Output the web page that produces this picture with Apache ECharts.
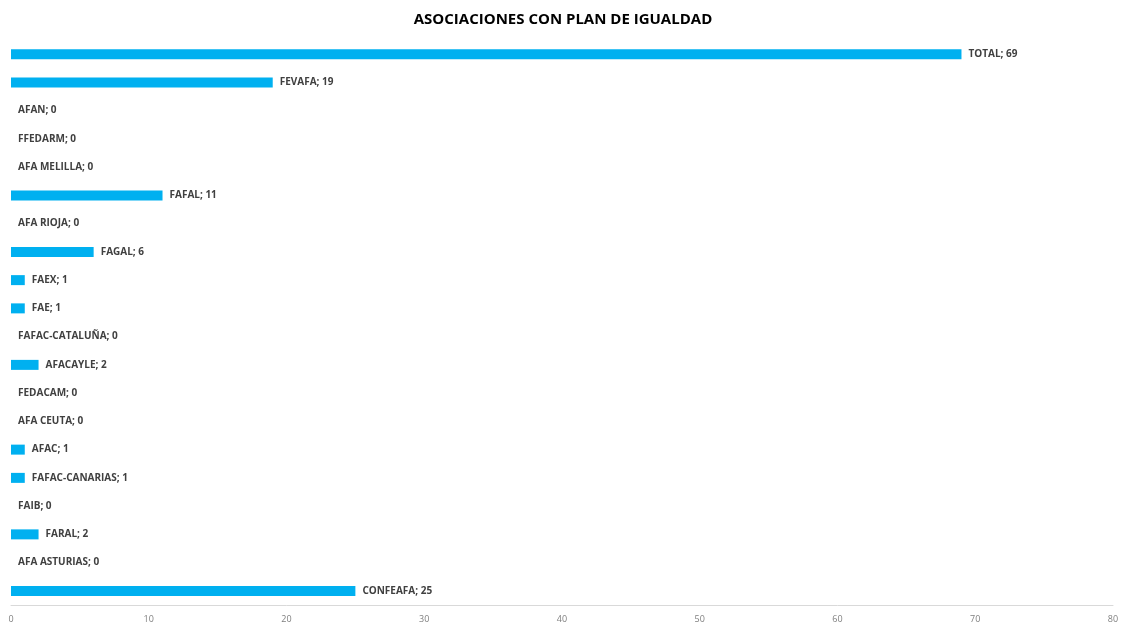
<!DOCTYPE html>
<html>
<head>
<meta charset="utf-8">
<script src="https://cdn.jsdelivr.net/npm/echarts@6/dist/echarts.min.js"></script>
<style>html,body{margin:0;padding:0;background:#fff;}#chart{width:1126px;height:624px;}</style>
</head>
<body>
<div id="chart"></div>
<script>
const categories = ["CONFEAFA","AFA ASTURIAS","FARAL","FAIB","FAFAC-CANARIAS","AFAC","AFA CEUTA","FEDACAM","AFACAYLE","FAFAC-CATALUÑA","FAE","FAEX","FAGAL","AFA RIOJA","FAFAL","AFA MELILLA","FFEDARM","AFAN","FEVAFA","TOTAL"];
const values = [25,0,2,0,1,1,0,0,2,0,1,1,6,0,11,0,0,0,19,69];
const xTicks = [0,10,20,30,40,50,60,70,80];

const chart = echarts.init(document.getElementById('chart'));
const fontFam = '"Liberation Sans Narrow", "Open Sans", sans-serif';
chart.setOption({
  animation: false,
  title: {
    text: 'ASOCIACIONES CON PLAN DE IGUALDAD',
    left: 'center', top: 7,
    textStyle: { fontFamily: fontFam, fontSize: 15, fontWeight: 'bold', color: '#000' }
  },
  grid: { left: 11, right: 13, top: 40, bottom: 18, containLabel: false },
  xAxis: {
    type: 'value', min: xTicks[0], max: xTicks[xTicks.length-1], interval: 10,
    axisLine: { show: true, lineStyle: { color: '#D9D9D9' } },
    axisTick: { show: false },
    splitLine: { show: false },
    axisLabel: { color: '#7f7f7f', fontSize: 9, fontFamily: fontFam, margin: 10 }
  },
  yAxis: {
    type: 'category', data: categories,
    axisLine: { show: false }, axisTick: { show: false }, axisLabel: { show: false }
  },
  series: [{
    type: 'bar', data: values, barWidth: 10,
    itemStyle: { color: '#00B0F0' },
    label: {
      show: true, position: 'right', distance: 7,
      formatter: p => categories[p.dataIndex] + '; ' + p.value,
      fontFamily: fontFam, fontSize: 10, fontWeight: 'bold', color: '#404040'
    }
  }]
});
</script>
</body>
</html>
